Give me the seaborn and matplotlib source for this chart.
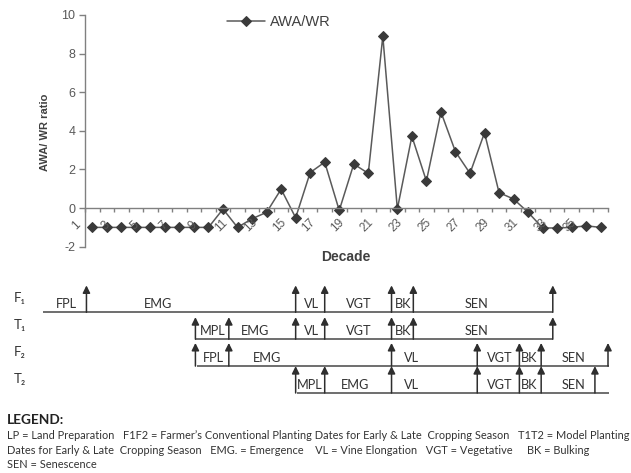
import numpy as np
import pandas as pd
import matplotlib
matplotlib.use("Agg")
import matplotlib.pyplot as plt
import seaborn as sns
from matplotlib.transforms import ScaledTranslation

# ---------------- data ----------------
decades = list(range(1, 37))
awa_wr = [-1.0, -1.0, -1.0, -1.0, -1.0, -1.0, -1.0, -1.0, -1.0, -0.05,
          -1.0, -0.55, -0.22, 0.98, -0.5, 1.84, 2.38, -0.12, 2.28, 1.8,
          8.9, -0.05, 3.72, 1.4, 4.98, 2.92, 1.8, 3.9, 0.8, 0.47,
          -0.22, -1.03, -1.03, -1.0, -0.92, -1.0]
series_name = "AWA/WR"
y_ticks = [-2, 0, 2, 4, 6, 8, 10]
x_tick_labels = [str(d) for d in range(1, 37, 2)]

row_names = ["F\u2081", "T\u2081", "F\u2082", "T\u2082"]
row_spans = [(-2.4, 32.7), (8.1, 32.7), (8.2, 36.6), (15.1, 36.6)]
f1_arrows = [0.6, 15.0, 17.0, 21.6, 23.1, 32.7]
t1_arrows = [8.1, 10.4, 15.0, 17.0, 21.6, 23.1, 32.7]
f2_arrows = [8.1, 10.4, 21.6, 27.5, 30.4, 31.9, 36.5]
t2_arrows = [15.0, 17.0, 21.6, 27.5, 30.4, 31.9, 35.6]
f1_stages = ["FPL", "EMG", "VL", "VGT", "BK", "SEN"]
t1_stages = ["MPL", "EMG", "VL", "VGT", "BK", "SEN"]
f2_stages = ["FPL", "EMG", "VL", "VGT", "BK", "SEN"]
t2_stages = ["MPL", "EMG", "VL", "VGT", "BK", "SEN"]
f1_stage_pos = [-0.76, 5.55, 16.06, 19.31, 22.41, 27.46]
t1_stage_pos = [9.26, 12.2, 16.06, 19.31, 22.41, 27.46]
f2_stage_pos = [9.33, 13.01, 22.99, 29.07, 31.08, 34.11]
t2_stage_pos = [15.99, 19.09, 22.99, 29.07, 31.08, 34.11]

legend_title = "LEGEND:"
legend_lines = [
    "LP = Land Preparation   F1F2 = Farmer\u2019s Conventional Planting Dates for Early & Late  Cropping Season   T1T2 = Model Planting",
    "Dates for Early & Late  Cropping Season   EMG. = Emergence    VL = Vine Elongation   VGT = Vegetative     BK = Bulking",
    "SEN = Senescence",
]

# ---------------- style ----------------
sns.set_style("white")
plt.rcParams["font.family"] = ["Liberation Sans", "DejaVu Sans"]
plt.rcParams["axes.unicode_minus"] = False
W, H = 631, 473
fig = plt.figure(figsize=(W / 100, H / 100), dpi=100)


def fx(px):
    return px / W


def fy(py):
    return 1 - py / H


grey_txt = "#595959"
axis_col = "#808080"

# ---------------- top chart ----------------
ax = fig.add_axes([fx(85), fy(246.7), (608 - 85) / W, (246.7 - 15) / H])
df = pd.DataFrame({"Decade": decades, "ratio": awa_wr})
sns.lineplot(data=df, x="Decade", y="ratio", marker="D", markersize=4.6,
             color="#5a5a5a", markerfacecolor="#3a3a3a", markeredgecolor="#3a3a3a",
             linewidth=1.1, label=series_name, ax=ax)
ax.set_xlim(0.5, 36.5)
ax.set_ylim(-2, 10)
ax.set_yticks(y_ticks)
ax.set_xlabel("")
ax.set_ylabel("")
for s in ["top", "right"]:
    ax.spines[s].set_visible(False)
ax.spines["bottom"].set_position(("data", 0))
ax.spines["bottom"].set_color(axis_col)
ax.spines["left"].set_color(axis_col)
ax.spines["bottom"].set_linewidth(1.0)
ax.spines["left"].set_linewidth(1.0)
ax.set_xticks(np.arange(0.5, 36.6, 1.0))
ax.set_xticklabels([])
ax.tick_params(axis="x", bottom=True, direction="out", length=3, color=axis_col, width=1)
ax.tick_params(axis="y", left=True, direction="out", length=4, color=axis_col, width=1,
               labelsize=9, labelcolor=grey_txt, pad=3)

off = ScaledTranslation(-0.16, -0.17, fig.dpi_scale_trans)
for lab in x_tick_labels:
    ax.text(int(lab), 0, lab, transform=ax.transData + off, rotation=45,
            rotation_mode="anchor", ha="center", va="center",
            fontsize=8.5, color=grey_txt)

fig.text(fx(346), fy(257), "Decade", ha="center", va="center",
         fontsize=10, fontweight="bold", color="#404040")
fig.text(fx(45), fy(132), "AWA/ WR ratio", ha="center", va="center", rotation=90,
         fontsize=8, fontweight="bold", color="#404040")

ax.legend(loc="center left", bbox_to_anchor=(fx(227), fy(22)),
          bbox_transform=fig.transFigure, frameon=False, handlelength=2.6,
          handletextpad=0.35, borderpad=0, borderaxespad=0, fontsize=10.5,
          labelcolor="#404040")

# ---------------- stage diagram ----------------
x_per_px = 36.0 / (608 - 85)
ax2 = fig.add_axes([0, fy(400), 1, 125 / H])
ax2.set_xlim(0.5 - 85 * x_per_px, 0.5 + (W - 85) * x_per_px)
row_px = 26.9
ax2.set_ylim(-(400 - 393) / row_px, 3 + (312.3 - 275) / row_px)
ax2.axis("off")

row_base = [3, 2, 1, 0]
arrow_h = [1.0, 0.82, 0.86, 1.0]
arrows_all = [f1_arrows, t1_arrows, f2_arrows, t2_arrows]
stages_all = [f1_stages, t1_stages, f2_stages, t2_stages]
stage_pos_all = [f1_stage_pos, t1_stage_pos, f2_stage_pos, t2_stage_pos]
dfam = ["Lato", "DejaVu Sans"]

for i in range(4):
    yb = row_base[i]
    x0, x1 = row_spans[i]
    ax2.plot([x0, x1], [yb, yb], color="#6e6e6e", lw=1.4, solid_capstyle="butt")
    for xa in arrows_all[i]:
        ax2.annotate("", xy=(xa, yb + arrow_h[i]), xytext=(xa, yb),
                     arrowprops=dict(arrowstyle="-|>", color="#2e2e2e", lw=1.1,
                                     mutation_scale=11, shrinkA=0, shrinkB=0))
    for lab, xp in zip(stages_all[i], stage_pos_all[i]):
        ax2.text(xp, yb + 0.29, lab, ha="center", va="center", fontsize=9.2,
                 family=dfam, color="#333333")
    ax2.text(0.5 - 71 * x_per_px, yb + 0.52, row_names[i], ha="left", va="center",
             fontsize=9.5, family=dfam, color="#333333")

# ---------------- bottom legend text ----------------
fig.text(fx(7), fy(420), legend_title, ha="left", va="center", fontsize=9.8,
         fontweight="bold", family=dfam, color="#222222")
for yy, line in zip([435.5, 450.5, 464.5], legend_lines):
    fig.text(fx(7), fy(yy), line, ha="left", va="center", fontsize=7.95,
             family=dfam, color="#333333")

fig.savefig("out.png", dpi=100)
